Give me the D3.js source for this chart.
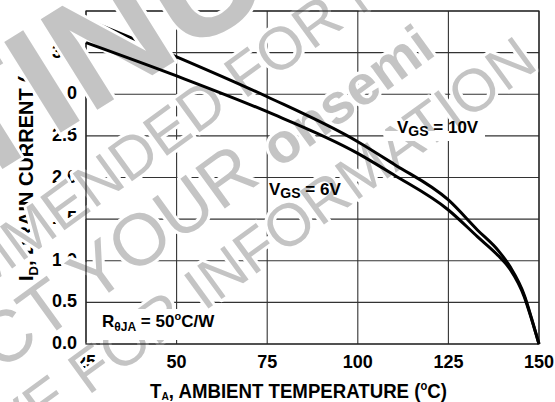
<!DOCTYPE html>
<html>
<head>
<meta charset="utf-8">
<script src="https://cdn.jsdelivr.net/npm/d3@7"></script>
<style>
  body { margin: 0; background: #fff; }
  svg { display: block; }
  text { font-family: "Liberation Sans", Arial, sans-serif; }
</style>
</head>
<body>
<svg id="chart" width="555" height="402"></svg>
<script>
// data
const temps = [25, 50, 75, 100, 110, 125, 133, 139, 142, 146, 148, 150];
const vgs10 = [3.90, 3.45, 2.97, 2.43, 2.16, 1.73, 1.37, 1.11, 0.93, 0.58, 0.30, 0];
const vgs6  = [3.62, 3.22, 2.79, 2.29, 2.03, 1.61, 1.29, 1.05, 0.90, 0.56, 0.29, 0];
const xTicks = [25, 50, 75, 100, 125, 150];
const yTicks = [0, 0.5, 1.0, 1.5, 2.0, 2.5, 3.0, 3.5, 4.0];
const yLabels = ['0.0', '0.5', '1.0', '1.5', '2.0', '2.5', '3.0', '3.5'];

const svg = d3.select('#chart');
const x = d3.scaleLinear().domain([25, 150]).range([86, 539]);
const y = d3.scaleLinear().domain([0, 4]).range([344, 11]);

const grid = svg.append('g');
grid.selectAll('line.v').data(xTicks).join('line')
  .attr('x1', d => x(d)).attr('x2', d => x(d))
  .attr('y1', y(0)).attr('y2', y(4))
  .attr('stroke', '#333').attr('stroke-width', 1.1);
grid.selectAll('line.h').data(yTicks).join('line')
  .attr('x1', x(25)).attr('x2', x(150))
  .attr('y1', d => y(d)).attr('y2', d => y(d))
  .attr('stroke', '#333').attr('stroke-width', 1.1);

// tick labels
svg.append('g').selectAll('text').data(yLabels).join('text')
  .attr('x', 77).attr('y', d => y(+d) + 5)
  .attr('text-anchor', 'end')
  .attr('font-size', 18).attr('font-weight', 'bold')
  .text(d => d);
svg.append('g').selectAll('text').data(xTicks).join('text')
  .attr('x', d => x(d)).attr('y', 368)
  .attr('text-anchor', 'middle')
  .attr('font-size', 18).attr('font-weight', 'bold')
  .text(d => d);

// axis titles
const xtg = svg.append('g');
const xt = xtg.append('text').attr('x', 0).attr('y', 0)
  .attr('font-size', 20).attr('font-weight', 'bold');
xt.append('tspan').text('T');
xt.append('tspan').attr('font-size', 11).attr('dy', 2).text('A');
xt.append('tspan').attr('dy', -2).text(', AMBIENT TEMPERATURE (');
xt.append('tspan').attr('font-size', 12).attr('dy', -8).text('o');
xt.append('tspan').attr('dy', 8).text('C)');
const xtLen = xt.node().getComputedTextLength();
xtg.attr('transform', `translate(150,398) scale(${297 / xtLen},1)`);

const yt = svg.append('text').attr('transform', 'translate(33,281) rotate(-90)')
  .attr('font-size', 20).attr('font-weight', 'bold');
yt.append('tspan').text('I');
yt.append('tspan').attr('font-size', 13).attr('dy', 5).text('D');
yt.append('tspan').attr('dy', -5).text(', DRAIN CURRENT (A)');

// watermark: parts are [text, weight, size]
function wmLine(g, parts, angle, anchorIdx, px, py) {
  const grp = g.append('g').attr('transform', `translate(${px},${py}) rotate(${angle})`);
  const t = grp.append('text')
    .attr('fill', '#c4c4c4').attr('stroke', '#fff').attr('stroke-width', 6)
    .attr('stroke-linejoin', 'round').attr('paint-order', 'stroke');
  parts.forEach(p => t.append('tspan').attr('font-weight', p[1]).attr('font-size', p[2]).text(p[0]));
  const off = t.node().getSubStringLength(0, anchorIdx);
  t.attr('x', -off);
}
const wm = svg.append('g');
wmLine(wm, [['NOT RECOMMENDED FOR NEW DESIGN', 'normal', 60]], -36, 16, 244, 100);
wmLine(wm, [['CONTACT YOUR ', 'normal', 73], ['onsemi', 'bold', 56]], -36, 13, 279, 169);
wmLine(wm, [['REPRESENTATIVE FOR INFORMATION', 'normal', 60]], -36, 15, 88, 396);

const line = d3.line().x((d, i) => x(temps[i])).y(d => y(d)).curve(d3.curveMonotoneX);

// VGS = 10V curve sits under the big watermark word
svg.append('path').datum(vgs10).attr('d', line)
  .attr('fill', 'none').attr('stroke', '#000').attr('stroke-width', 3);

// frame
svg.append('rect').attr('x', x(25)).attr('y', y(4))
  .attr('width', x(150) - x(25)).attr('height', y(0) - y(4))
  .attr('fill', 'none').attr('stroke', '#222').attr('stroke-width', 1.2);

// big watermark word
const big = svg.append('g');
wmLine(big, [['DISCONTINUED', 'bold', 155]], -32, 7, 52, 138);

// VGS = 6V curve
svg.append('path').datum(vgs6).attr('d', line)
  .attr('fill', 'none').attr('stroke', '#000').attr('stroke-width', 3);

// in-plot labels
svg.append('rect').attr('x', 385).attr('y', 131).attr('width', 100).attr('height', 10).attr('fill', '#fff');
const l10 = svg.append('text').attr('x', 397).attr('y', 133)
  .attr('font-size', 17).attr('font-weight', 'bold');
l10.append('tspan').text('V');
l10.append('tspan').attr('font-size', 14).attr('dy', 3).text('GS');
l10.append('tspan').attr('dy', -3).text(' = 10V');

const l6 = svg.append('text').attr('x', 269).attr('y', 195)
  .attr('font-size', 17).attr('font-weight', 'bold');
l6.append('tspan').text('V');
l6.append('tspan').attr('font-size', 14).attr('dy', 3).text('GS');
l6.append('tspan').attr('dy', -3).text(' = 6V');

svg.append('rect').attr('x', 98).attr('y', 309).attr('width', 118).attr('height', 31).attr('fill', '#fff');
const lr = svg.append('text').attr('x', 102).attr('y', 327)
  .attr('font-size', 17).attr('font-weight', 'bold');
lr.append('tspan').text('R');
lr.append('tspan').attr('font-size', 12).attr('dy', 4).text('θJA');
lr.append('tspan').attr('dy', -4).text(' = 50');
lr.append('tspan').attr('font-size', 11).attr('dy', -7).text('o');
lr.append('tspan').attr('dy', 7).text('C/W');
</script>
</body>
</html>
